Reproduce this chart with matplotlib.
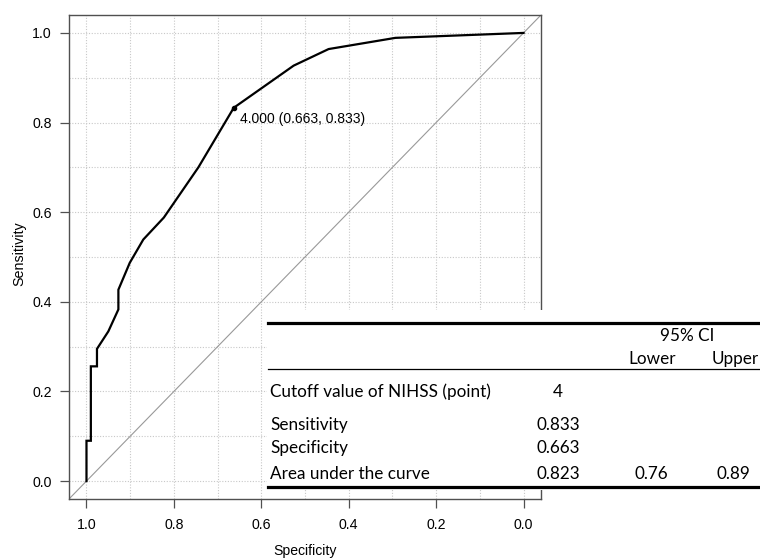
import matplotlib
matplotlib.use("Agg")
import matplotlib.pyplot as plt
from matplotlib.patches import Rectangle
from matplotlib.lines import Line2D
import numpy as np

# ROC curve (specificity, sensitivity)
specificity = [1.0, 1.0, 0.990, 0.990, 0.976, 0.976, 0.950, 0.927, 0.927,
               0.901, 0.870, 0.823, 0.744, 0.663, 0.526, 0.446, 0.293, 0.0]
sensitivity = [0.0, 0.090, 0.090, 0.256, 0.256, 0.295, 0.334, 0.383, 0.427,
               0.487, 0.539, 0.588, 0.700, 0.833, 0.927, 0.964, 0.989, 1.0]

best_thr = 4.000
best_spec = 0.663
best_sens = 0.833

# table next to the curve
row_labels = ["Cutoff value of NIHSS (point)", "Sensitivity", "Specificity",
              "Area under the curve"]
row_values = ["4", "0.833", "0.663", "0.823"]
ci_lower = ["", "", "", "0.76"]
ci_upper = ["", "", "", "0.89"]

W, H = 760, 559
fig = plt.figure(figsize=(W / 100, H / 100), dpi=100)
ax = fig.add_axes([69 / W, 1 - 499 / H, (541 - 69) / W, (499 - 15) / H])

plot_font = "Liberation Sans"
table_font = "Lato"

ax.set_xlim(1.04, -0.04)
ax.set_ylim(-0.04, 1.04)
ticks = np.arange(0, 1.01, 0.2)
ax.set_xticks(ticks)
ax.set_yticks(ticks)
ax.set_xticks(np.arange(0, 1.01, 0.1), minor=True)
ax.set_yticks(np.arange(0, 1.01, 0.1), minor=True)
ax.set_xticklabels(["%.1f" % t for t in ticks], fontname=plot_font, fontsize=10.2)
ax.set_yticklabels(["%.1f" % t for t in ticks], fontname=plot_font, fontsize=10.2)
ax.tick_params(which="major", length=6.3, width=0.9, color="#505050")
ax.tick_params(axis="x", which="major", pad=7.5)
ax.tick_params(axis="y", which="major", pad=6)
ax.tick_params(which="minor", length=0)
ax.grid(True, which="both", color="#c8c8c8", linestyle=(0, (1, 1.5)), linewidth=0.8)
ax.set_axisbelow(True)
for s in ax.spines.values():
    s.set_color("#505050")
    s.set_linewidth(1.0)

ax.axline((1, 0), (0, 1), color="#999999", linewidth=0.8)
ax.plot(specificity, sensitivity, color="black", linewidth=1.6, solid_joinstyle="miter")
ax.plot([best_spec], [best_sens], "o", color="black", markersize=3)
ax.annotate("%.3f (%.3f, %.3f)" % (best_thr, best_spec, best_sens),
            (best_spec, best_sens), xytext=(4.8, -10.8), textcoords="offset points",
            ha="left", va="baseline", fontname=plot_font, fontsize=10)

fig.text(19 / W, 1 - 254 / H, "Sensitivity", rotation=90, ha="center", va="center",
         fontname=plot_font, fontsize=10.3)
fig.text(305 / W, 1 - 555 / H, "Specificity", ha="center", va="baseline",
         fontname=plot_font, fontsize=10.1)

# table overlay
fig.add_artist(Rectangle((267 / W, 1 - 490 / H), (W - 267) / W, 180 / H,
                         transform=fig.transFigure, facecolor="white",
                         edgecolor="none", zorder=2))
for y, lw in [(322.7, 2.3), (369.3, 0.9), (486.7, 2.3)]:
    fig.add_artist(Line2D([268 / W, 1.0], [1 - y / H, 1 - y / H],
                          transform=fig.transFigure, color="black", linewidth=lw,
                          zorder=3))

tkw = dict(fontname=table_font, fontsize=12.3, va="baseline", zorder=4)
fig.text(687 / W, 1 - 340.7 / H, "95% CI", ha="center", **tkw)
fig.text(651.7 / W, 1 - 364.3 / H, "Lower", ha="center", **tkw)
fig.text(735 / W, 1 - 364.3 / H, "Upper", ha="center", **tkw)

row_base = [397.3, 430.0, 452.7, 479.0]
for lab, val, lo, up, yb in zip(row_labels, row_values, ci_lower, ci_upper, row_base):
    fy = 1 - yb / H
    fig.text(270 / W, fy, lab, ha="left", **tkw)
    fig.text(558 / W, fy, val, ha="center", **tkw)
    if lo:
        fig.text(651.7 / W, fy, lo, ha="center", **tkw)
    if up:
        fig.text(733 / W, fy, up, ha="center", **tkw)

fig.savefig("out.png", dpi=100)
